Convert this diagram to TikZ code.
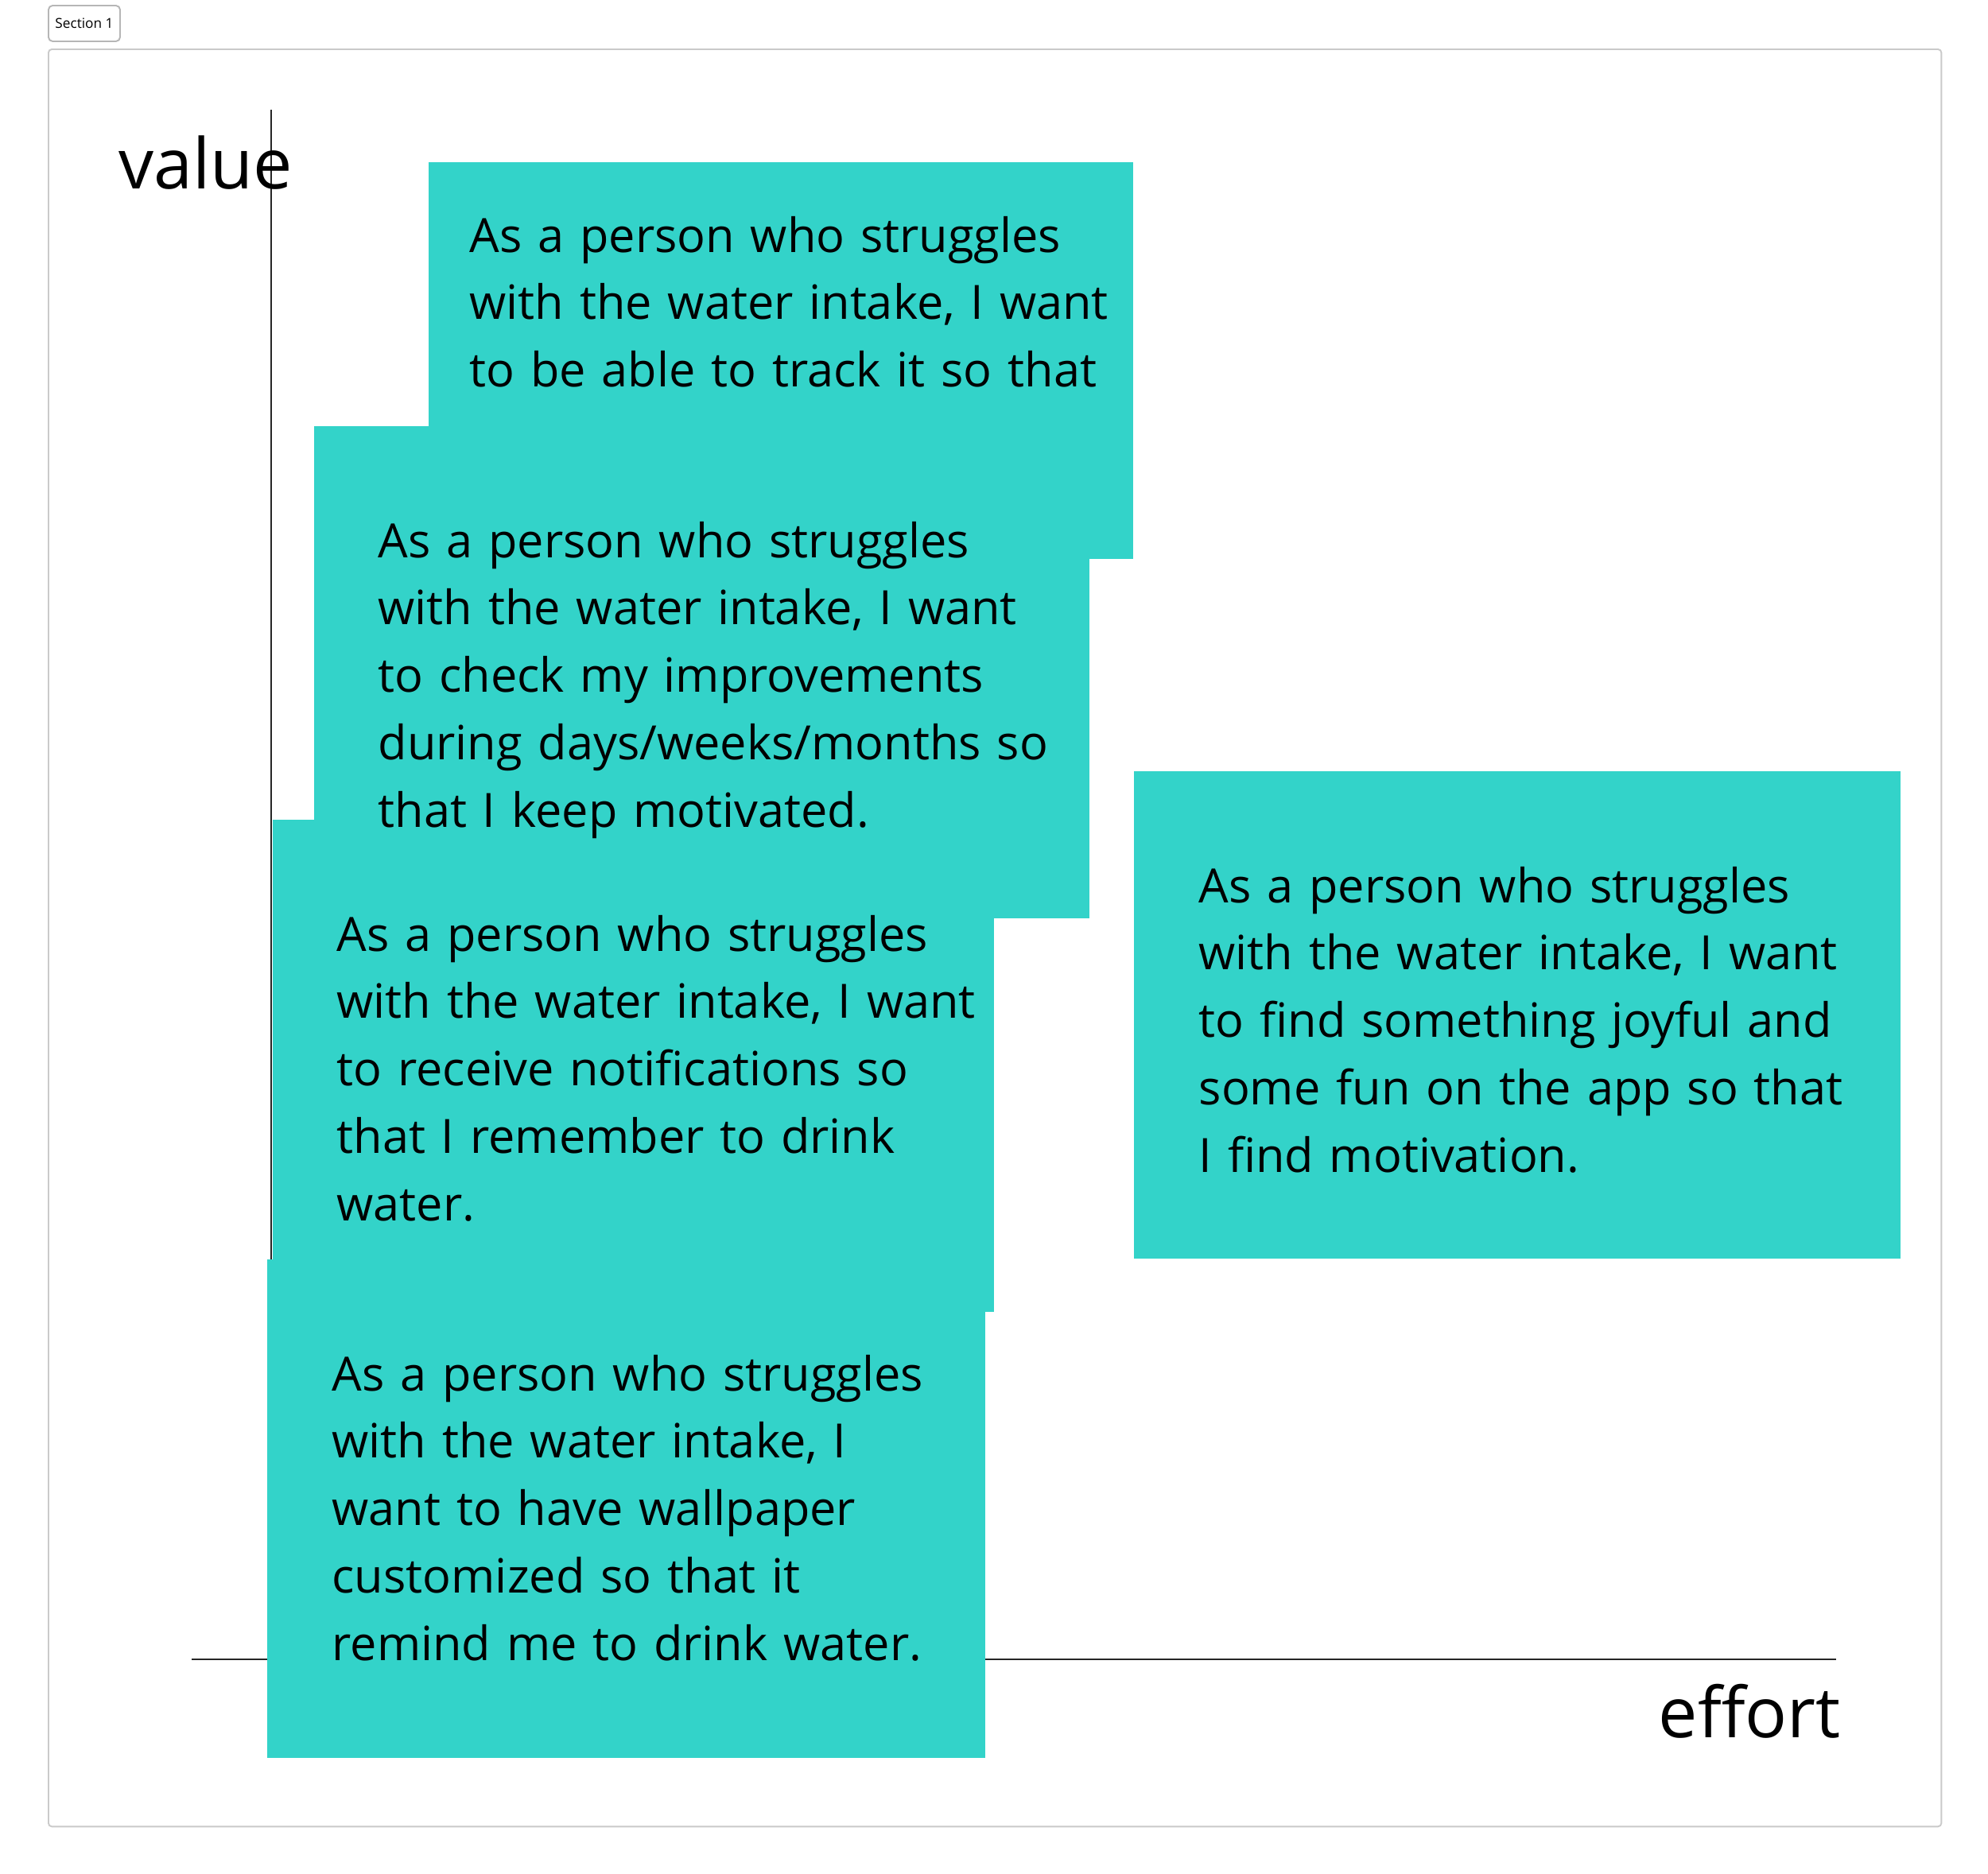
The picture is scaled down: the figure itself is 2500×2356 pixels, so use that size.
\documentclass[tikz,border=0pt]{standalone}
\usepackage{fontspec}
\setmainfont{Open Sans}

\definecolor{stickyteal}{HTML}{33D3C9}
\definecolor{framegray}{HTML}{CACACA}

\tikzset{
    note/.style={fill=stickyteal, draw=none, anchor=north west, inner sep=0pt},
    story/.style={anchor=base west, inner sep=0pt, text width=9cm, align=left,
        font=\fontsize{16.9}{24.1}\selectfont},
    axisline/.style={draw=black!85, line width=0.6pt},
    bigword/.style={anchor=base west, inner sep=0pt, font=\fontsize{25}{30}\selectfont}
}

\begin{document}
\begin{tikzpicture}[x=0.01cm, y=-0.01cm]
    \useasboundingbox (0,0) rectangle (2500,2356);
    \node[draw=framegray, line width=0.55pt, rounded corners=1.2pt, anchor=north west,
        inner sep=0pt, minimum width=23.79cm, minimum height=22.34cm] (frame) at (60,61) {};
    \node[draw=framegray!90!black, line width=0.55pt, rounded corners=1.5pt, anchor=north west,
        inner sep=0pt, minimum width=0.9cm, minimum height=0.45cm,
        font=\fontsize{4.9}{6}\selectfont] (sec) at (60,6) {Section 1};

    \coordinate (ytop) at (341,138);
    \coordinate (origin) at (341,2087);
    \coordinate (xleft) at (241,2087);
    \coordinate (xright) at (2309,2087);
    \draw[axisline] (ytop) -- (origin);
    \draw[axisline] (xleft) -- (xright);
    \node[bigword] (value) at (149,237) {value};
    \node[bigword] (effort) at (2085,2185) {effort};

    \node[note, minimum width=8.86cm, minimum height=4.99cm] (b1) at (538,203) {};
    \node[note, minimum width=9.07cm, minimum height=6.19cm] (b3) at (342,1030) {};
    \node[note, minimum width=9.75cm, minimum height=6.19cm] (b2) at (394,535) {};
    \node[note, minimum width=9.03cm, minimum height=6.27cm] (b4) at (335,1583) {};
    \node[note, minimum width=9.64cm, minimum height=6.13cm] (b5) at (1425,969) {};

    \node[story] (t1) at ([shift={(52,114)}]b1.north west)
        {As a person who struggles\\with the water intake, I want\\to be able to track it so that};
    \node[story] (t2) at ([shift={(81,166)}]b2.north west)
        {As a person who struggles\\with the water intake, I want\\to check my improvements\\during days/weeks/months so\\that I keep motivated.};
    \node[story] (t3) at ([shift={(81,166)}]b3.north west)
        {As a person who struggles\\with the water intake, I want\\to receive notifications so\\that I remember to drink\\water.};
    \node[story] (t4) at ([shift={(82,166)}]b4.north west)
        {As a person who struggles\\with the water intake, I\\want to have wallpaper\\customized so that it\\remind me to drink water.};
    \node[story] (t5) at ([shift={(82,166)}]b5.north west)
        {As a person who struggles\\with the water intake, I want\\to find something joyful and\\some fun on the app so that\\I find motivation.};
\end{tikzpicture}
\end{document}
